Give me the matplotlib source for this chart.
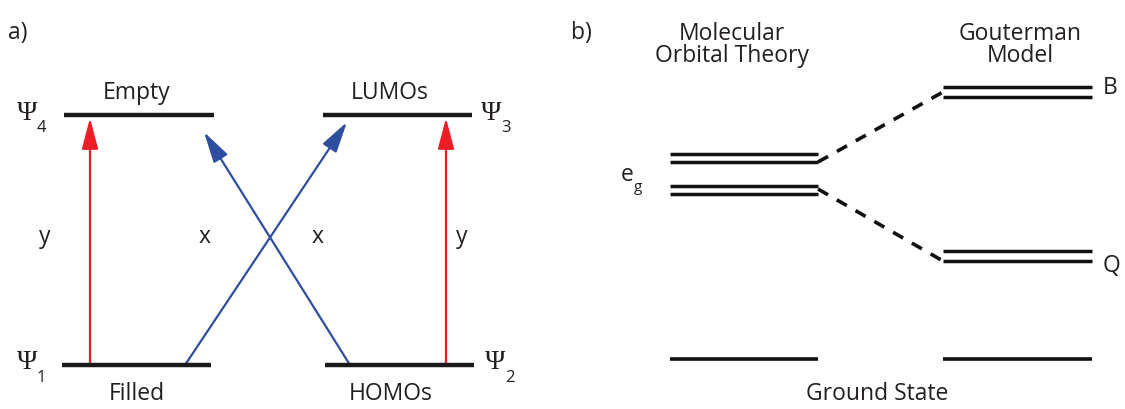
import matplotlib
matplotlib.use("Agg")
import matplotlib.pyplot as plt
from matplotlib.patches import FancyArrowPatch

# --- panel a: four-orbital levels (x_start, x_end, y) ---
levels_a = [(64, 214, 116), (323, 472, 116), (62, 211, 366), (325, 474, 366)]
level_names_a = ["Empty", "LUMOs", "Filled", "HOMOs"]
psi_labels = ["4", "3", "1", "2"]
# transitions: (x0, y0, x1, y1, colour)
transitions = [
    (90, 366, 90, 119, "#ee1c25"),
    (446, 366, 446, 119, "#ee1c25"),
    (185, 366, 347, 123, "#2e4ea0"),
    (350, 366, 204, 133, "#2e4ea0"),
]
polarisations = ["y", "x", "x", "y"]

# --- panel b: Gouterman model levels ---
mo_pairs = [(155, 163), (187, 195)]
gouterman_pairs = [(88, 98), (252, 262)]
ground_y = 360
gouterman_names = ["B", "Q"]

fig = plt.figure(figsize=(11.25, 4.10), dpi=100)
ax = fig.add_axes([0, 0, 1, 1])
ax.set_xlim(0, 1125)
ax.set_ylim(410, 0)
ax.axis("off")

font = "Open Sans"
fs = 16.5
tc = "#231f20"

# panel labels
ax.text(8, 33, "a)", fontsize=fs, family=font, va="center", ha="left", color=tc)
ax.text(571, 33, "b)", fontsize=fs, family=font, va="center", ha="left", color=tc)

# panel a levels
for (x0, x1, y) in levels_a:
    ax.plot([x0, x1], [y, y], color="#1a1a1a", lw=3.2, solid_capstyle="butt")

name_pos = [(137, 93), (390, 93), (137, 394), (391, 394)]
for name, (x, y) in zip(level_names_a, name_pos):
    ax.text(x, y, name, fontsize=fs, family=font, ha="center", va="center", color=tc)

psi_pos = [(27, 113), (491, 113), (27, 363), (495, 363)]
for sub, (x, y) in zip(psi_labels, psi_pos):
    ax.text(x, y, "\u03a8", fontsize=20, family="Liberation Serif", ha="center", va="center",
            color=tc)
    ax.text(x + 10, y + 15, sub, fontsize=12, family=font, ha="left", va="center", color=tc)

for (x0, y0, x1, y1, c) in transitions:
    arr = FancyArrowPatch((x0, y0), (x1, y1), arrowstyle="-|>,head_length=1.9,head_width=0.5",
                          mutation_scale=10, color=c, lw=1.6, shrinkA=0, shrinkB=0)
    ax.add_patch(arr)

pol_pos = [(45, 237), (205, 237), (318, 237), (462, 237)]
for lab, (x, y) in zip(polarisations, pol_pos):
    ax.text(x, y, lab, fontsize=fs, family=font, ha="center", va="center", color=tc)

# panel b
lw_pair = 2.5
mo_x = (670, 818)
g_x = (943, 1092)
for (ya, yb) in mo_pairs:
    for y in (ya, yb):
        ax.plot(mo_x, [y, y], color="#111111", lw=lw_pair, solid_capstyle="butt")
for (ya, yb) in gouterman_pairs:
    for y in (ya, yb):
        ax.plot(g_x, [y, y], color="#111111", lw=lw_pair, solid_capstyle="butt")
for xs in (mo_x, g_x):
    ax.plot(xs, [ground_y, ground_y], color="#111111", lw=2.6, solid_capstyle="butt")

# correlation lines
ax.plot([mo_x[1], g_x[0]], [mo_pairs[0][1], gouterman_pairs[0][1] - 5], color="#111111",
        lw=2.6, ls=(0, (3.2, 2.8)), dash_capstyle="butt")
ax.plot([mo_x[1], g_x[0]], [mo_pairs[1][0] + 3, gouterman_pairs[1][1]], color="#111111",
        lw=2.6, ls=(0, (3.2, 2.8)), dash_capstyle="butt")

ax.text(732, 34, "Molecular", fontsize=fs, family=font, ha="center", va="center", color=tc)
ax.text(732, 56, "Orbital Theory", fontsize=fs, family=font, ha="center", va="center", color=tc)
ax.text(1020, 34, "Gouterman", fontsize=fs, family=font, ha="center", va="center", color=tc)
ax.text(1020, 56, "Model", fontsize=fs, family=font, ha="center", va="center", color=tc)
ax.text(877, 394, "Ground State", fontsize=fs, family=font, ha="center", va="center", color=tc)
ax.text(627, 175, "e", fontsize=fs, family=font, ha="center", va="center", color=tc)
ax.text(634, 188, "g", fontsize=11, family=font, ha="left", va="center", color=tc)
ax.text(1110, 88, gouterman_names[0], fontsize=fs, family=font, ha="center", va="center",
        color=tc)
ax.text(1111, 266, gouterman_names[1], fontsize=fs, family=font, ha="center", va="center",
        color=tc)

fig.savefig("out.png", dpi=100)
